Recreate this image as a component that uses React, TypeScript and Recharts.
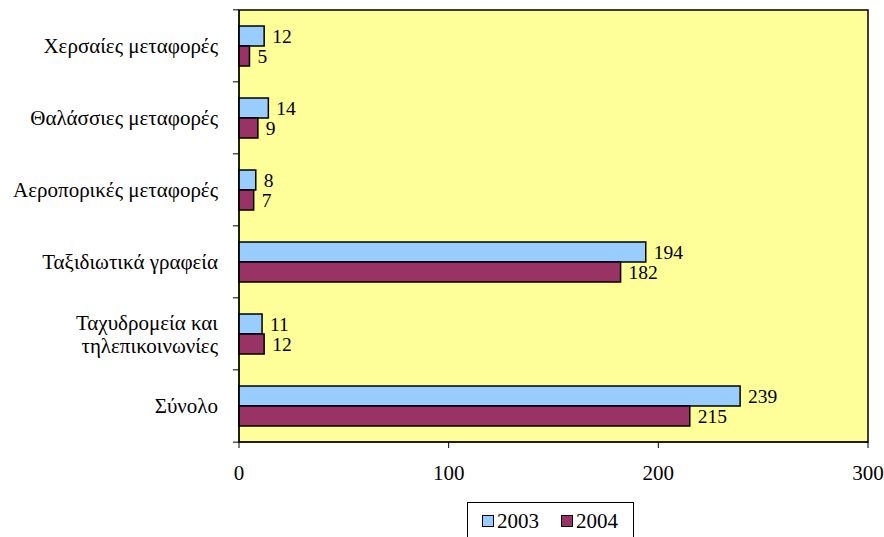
import { BarChart, Bar, XAxis, YAxis, CartesianGrid, Legend, LabelList, ReferenceArea } from 'recharts';

// categories, top to bottom
const categories = [
  'Χερσαίες μεταφορές',
  'Θαλάσσιες μεταφορές',
  'Αεροπορικές μεταφορές',
  'Ταξιδιωτικά γραφεία',
  'Ταχυδρομεία και|τηλεπικοινωνίες',
  'Σύνολο',
];
const values2003 = [12, 14, 8, 194, 11, 239];
const values2004 = [5, 9, 7, 182, 12, 215];
const xTicks = [0, 100, 200, 300];

const FONT = "'Liberation Serif', 'DejaVu Serif', serif";
const BLUE = '#99CCFF';
const PLUM = '#993366';
const BAND = 434 / categories.length;

const data = categories.map((name, i) => ({
  name,
  y2003: values2003[i],
  y2004: values2004[i],
}));

// category label, with the small tick marks at band borders
function CategoryTick(props: any) {
  const { x, y, payload, index } = props;
  const lines = String(payload.value).split('|');
  const lineH = 23;
  const top = y - ((lines.length - 1) * lineH) / 2;
  return (
    <g>
      <line x1={x - 6} x2={x} y1={y - BAND / 2} y2={y - BAND / 2} stroke="#000" />
      {index === categories.length - 1 && (
        <line x1={x - 6} x2={x} y1={y + BAND / 2} y2={y + BAND / 2} stroke="#000" />
      )}
      <text x={x - 21} y={top} textAnchor="end" style={{ fontFamily: FONT }} fontSize={21} fill="#000" dominantBaseline="central">
        {lines.map((l, i) => (
          <tspan key={i} x={x - 21} dy={i === 0 ? 0 : lineH}>
            {l}
          </tspan>
        ))}
      </text>
    </g>
  );
}

function LegendBox() {
  const items = [
    { label: '2003', color: BLUE },
    { label: '2004', color: PLUM },
  ];
  return (
    <div
      style={{
        display: 'flex',
        alignItems: 'center',
        gap: 22,
        border: '1px solid #000',
        height: 38,
        width: 167,
        padding: '0 8px 0 14px',
        fontFamily: FONT,
        fontSize: 21,
        boxSizing: 'border-box',
      }}
    >
      {items.map((it) => (
        <span key={it.label} style={{ display: 'flex', alignItems: 'center' }}>
          <span
            style={{
              width: 10,
              height: 10,
              background: it.color,
              border: '1.5px solid #000',
              marginRight: 3,
              display: 'inline-block',
            }}
          />
          {it.label}
        </span>
      ))}
    </div>
  );
}

export default function App() {
  return (
    <div style={{ position: 'absolute', left: 0, top: 0, width: 884, height: 537, background: '#fff', overflow: 'hidden', fontFamily: FONT }}>
      <BarChart
        width={884}
        height={537}
        data={data}
        layout="vertical"
        margin={{ top: 10, right: 16, bottom: 27, left: 0 }}
        barGap={0}
        barSize={20}
      >
        <CartesianGrid fill="#FFFF99" stroke="none" horizontal={false} vertical={false} />
        <XAxis
          type="number"
          domain={[0, 300]}
          ticks={xTicks}
          height={30}
          tickSize={6}
          tickMargin={17}
          axisLine={{ stroke: '#000' }}
          tickLine={{ stroke: '#000' }}
          tick={{ fill: '#000', fontSize: 21, style: { fontFamily: FONT } }}
        />
        <YAxis
          type="category"
          dataKey="name"
          width={239}
          tickSize={0}
          tickMargin={0}
          tickLine={false}
          axisLine={{ stroke: '#000' }}
          tick={<CategoryTick />}
          interval={0}
        />
        <Bar dataKey="y2003" fill={BLUE} stroke="#000" strokeWidth={1.5} isAnimationActive={false}>
          <LabelList dataKey="y2003" position="right" offset={8} fill="#000" fontSize={19.5} style={{ fontFamily: FONT }} />
        </Bar>
        <Bar dataKey="y2004" fill={PLUM} stroke="#000" strokeWidth={1.5} isAnimationActive={false}>
          <LabelList dataKey="y2004" position="right" offset={8} fill="#000" fontSize={19.5} style={{ fontFamily: FONT }} />
        </Bar>
        <ReferenceArea x1={0} x2={300} fill="none" stroke="#000" strokeWidth={1.5} ifOverflow="visible" />
        <Legend
          verticalAlign="bottom"
          content={<LegendBox />}
          wrapperStyle={{ position: 'absolute', left: 467, top: 502, width: 167 }}
        />
      </BarChart>
    </div>
  );
}
